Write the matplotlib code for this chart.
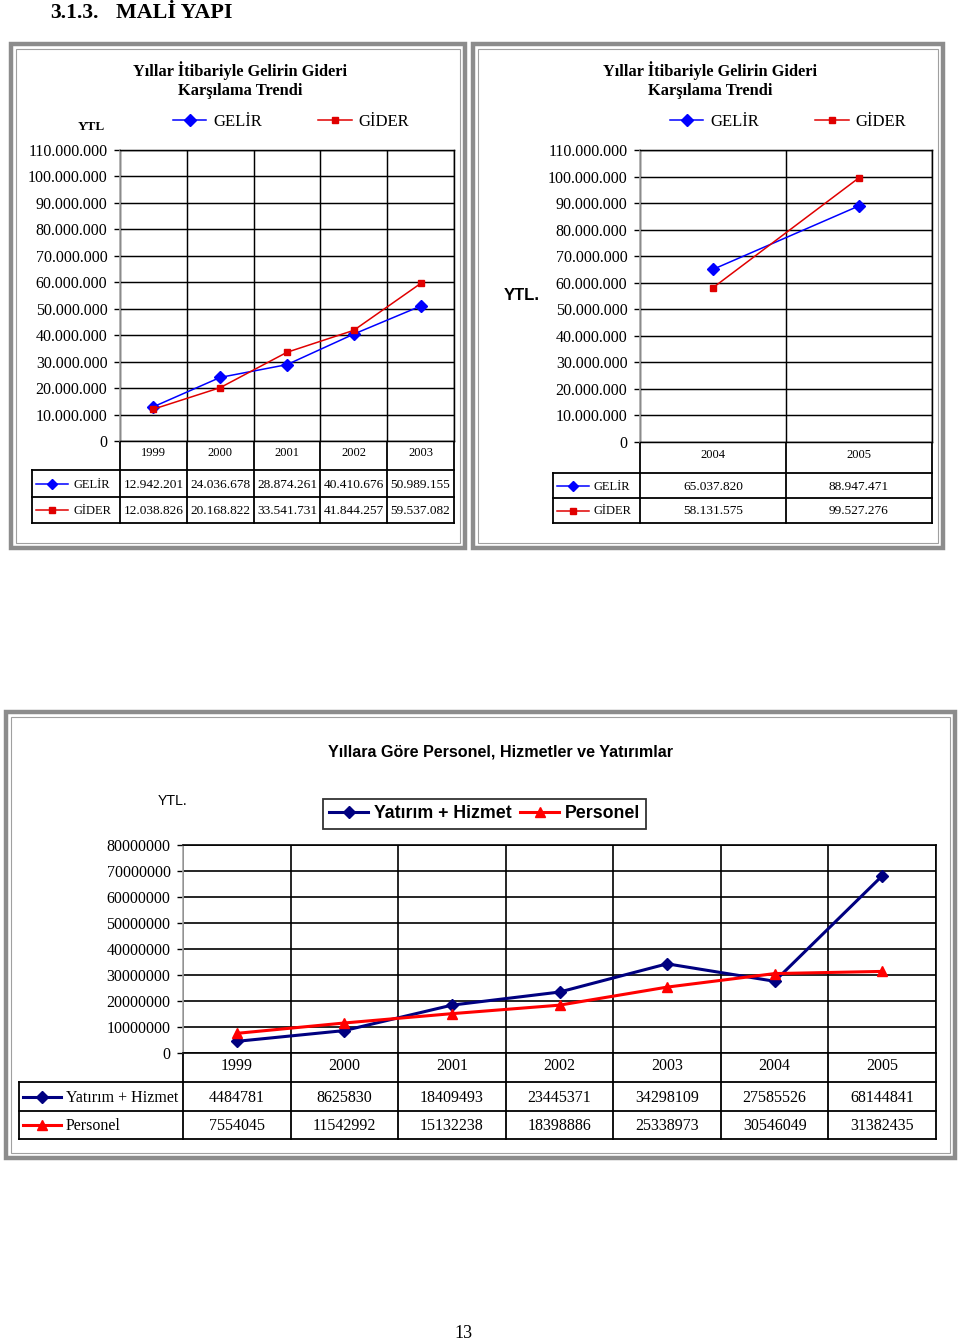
import numpy as np
import matplotlib.pyplot as plt
from matplotlib import font_manager
from matplotlib.patches import Rectangle

# ---- veriler ----
years_a = ['1999', '2000', '2001', '2002', '2003']
gelir_a = [12942201, 24036678, 28874261, 40410676, 50989155]
gider_a = [12038826, 20168822, 33541731, 41844257, 59537082]

years_b = ['2004', '2005']
gelir_b = [65037820, 88947471]
gider_b = [58131575, 99527276]

years_c = ['1999', '2000', '2001', '2002', '2003', '2004', '2005']
yatirim = [4484781, 8625830, 18409493, 23445371, 34298109, 27585526, 68144841]
personel = [7554045, 11542992, 15132238, 18398886, 25338973, 30546049, 31382435]

ticks_ab = np.arange(0, 110_000_001, 10_000_000)
ticks_c = np.arange(0, 80_000_001, 10_000_000)

W, H = 960, 1343
SERIF = ['Liberation Serif', 'DejaVu Serif']
SANS = ['Liberation Sans', 'DejaVu Sans']
names = {f.name for f in font_manager.fontManager.ttflist}
if 'Liberation Sans Narrow' in names:
    NARROW, nscale = ['Liberation Sans Narrow', 'DejaVu Sans'], 1.0
else:
    NARROW, nscale = SANS, 0.85

BLUE, RED = '#0000ff', '#e00000'
NAVY, RED2 = '#000080', '#ff0000'


def dots(v):
    return f'{int(v):,}'.replace(',', '.')


fig = plt.figure(figsize=(W / 100, H / 100), dpi=100)
bg = fig.add_axes([0, 0, 1, 1])
bg.set_xlim(0, W)
bg.set_ylim(H, 0)
bg.axis('off')


def px_axes(x0, y0, x1, y1):
    return fig.add_axes([x0 / W, 1 - y1 / H, (x1 - x0) / W, (y1 - y0) / H])


def panel_frame(x0, y0, x1, y1):
    bg.add_patch(Rectangle((x0 + 2, y0 + 2), x1 - x0 - 4, y1 - y0 - 4,
                           fill=False, ec='#8c8c8c', lw=3.2))
    bg.add_patch(Rectangle((x0 + 7, y0 + 7), x1 - x0 - 14, y1 - y0 - 14,
                           fill=False, ec='#a0a0a0', lw=0.8))


def style_axes(ax, n, yticks, ylabels, fsize, gw):
    ax.set_xlim(-0.5, n - 0.5)
    ax.set_ylim(yticks[0], yticks[-1])
    ax.set_yticks(yticks)
    ax.set_yticklabels(ylabels, family=SERIF, fontsize=fsize)
    ax.set_xticks(np.arange(n + 1) - 0.5)
    ax.set_xticklabels([])
    ax.tick_params(axis='x', length=0)
    ax.tick_params(axis='y', length=4, width=1, pad=5, color='black')
    ax.grid(True, color='black', lw=gw)
    for s in ['top', 'right', 'bottom']:
        ax.spines[s].set_color('black')
        ax.spines[s].set_linewidth(gw)
    ax.spines['left'].set_color('#a8a8a8')
    ax.spines['left'].set_linewidth(1.2)


def table(x_left, x_plot, x_right, y_plot, y_rows, cats, rows, fs_cat, fs_val,
          key_len, fs_lab, lab_family, lw_key):
    n = len(cats)
    cols = np.linspace(x_plot, x_right, n + 1)
    for cx in cols:
        bg.plot([cx, cx], [y_plot, y_rows[-1]], color='black', lw=1.3)
    bg.plot([x_left, x_left], [y_rows[0], y_rows[-1]], color='black', lw=1.3)
    for yy in y_rows:
        bg.plot([x_left, x_right], [yy, yy], color='black', lw=1.3)
    ycat = y_plot + 12.5
    for i, c in enumerate(cats):
        bg.text((cols[i] + cols[i + 1]) / 2, ycat, c, ha='center', va='center',
                family=SERIF, fontsize=fs_cat)
    for r, (label, vals, color, marker, ms, fmt) in enumerate(rows):
        ym = (y_rows[r] + y_rows[r + 1]) / 2
        kx0 = x_left + 4
        bg.plot([kx0, kx0 + key_len], [ym, ym], color=color, lw=lw_key)
        bg.plot([kx0 + key_len / 2], [ym], color=color, marker=marker, ms=ms)
        bg.text(kx0 + key_len + 5, ym + 1, label, ha='left', va='center',
                family=lab_family, fontsize=fs_lab)
        for i, v in enumerate(vals):
            bg.text((cols[i] + cols[i + 1]) / 2, ym + 1, fmt(v), ha='center',
                    va='center', family=SERIF, fontsize=fs_val)


# ---- başlık ----
bg.text(50, 13, '3.1.3.', ha='left', va='center', family=SERIF,
        fontsize=15.5, fontweight='bold')
bg.text(116, 13, 'MALİ YAPI', ha='left', va='center', family=SERIF,
        fontsize=15.8, fontweight='bold')
bg.text(463, 1333, '13', ha='center', va='center', family=SERIF, fontsize=13)

panel_frame(9, 42, 467, 550)
panel_frame(471, 42, 945, 550)
panel_frame(4, 710, 957, 1160)


def trend_chart(box, years, gelir, gider, cx_title, cx_leg, tab):
    ax = px_axes(*box)
    x = np.arange(len(years))
    l1, = ax.plot(x, gelir, color=BLUE, marker='D', ms=6, lw=1.1, label='GELİR')
    l2, = ax.plot(x, gider, color=RED, marker='s', ms=4.2, lw=1.1, label='GİDER')
    style_axes(ax, len(years), ticks_ab, [dots(v) for v in ticks_ab], 11.5, 1.05)
    bg.text(cx_title, 80, 'Yıllar İtibariyle Gelirin Gideri\nKarşılama Trendi',
            ha='center', va='center', family=SERIF, fontsize=11.8,
            fontweight='bold', linespacing=1.2)
    ax.legend(handles=[l1, l2], loc='center', ncol=2, frameon=False,
              bbox_to_anchor=(cx_leg / W, 1 - 122 / H),
              bbox_transform=fig.transFigure,
              prop=dict(family=SERIF, size=12), handlelength=2.0,
              handletextpad=0.4, columnspacing=3.4)
    x_left, y_rows = tab
    rows = [('GELİR', gelir, BLUE, 'D', 5, dots),
            ('GİDER', gider, RED, 's', 3.8, dots)]
    table(x_left, box[0], box[2], box[3], y_rows, years, rows, 9, 9.6,
          32, 9, SERIF, 1.1)
    return ax


trend_chart((120, 150, 454, 441), years_a, gelir_a, gider_a, 240, 291,
            (32, [470, 497, 523]))
bg.text(91, 127, 'YTL', ha='center', va='center', family=SERIF, fontsize=9.5,
        fontweight='bold')

trend_chart((640, 150, 932, 442), years_b, gelir_b, gider_b, 710, 788,
            (553, [473, 498, 523]))
bg.text(522, 295, 'YTL.', ha='center', va='center', family=SANS, fontsize=12,
        fontweight='bold')

# ---- alt grafik ----
box = (183, 845, 936, 1053)
ax3 = px_axes(*box)
x = np.arange(len(years_c))
h1, = ax3.plot(x, yatirim, color=NAVY, marker='D', ms=6, lw=2.2,
               label='Yatırım + Hizmet')
h2, = ax3.plot(x, personel, color=RED2, marker='^', ms=7, lw=2.2,
               label='Personel')
style_axes(ax3, len(years_c), ticks_c, [str(int(v)) for v in ticks_c], 11.5, 1.2)
ax3.legend(handles=[h1, h2], loc='center', ncol=2, frameon=True,
           fancybox=False, edgecolor='black',
           bbox_to_anchor=(484.5 / W, 1 - 814 / H), bbox_transform=fig.transFigure,
           prop=dict(family=NARROW, size=15 * nscale, weight='bold'),
           handlelength=2.2, handletextpad=0.3, columnspacing=0.5,
           borderpad=0.35)
ax3.get_legend().get_frame().set_linewidth(1.3)
bg.text(500, 752, 'Yıllara Göre Personel, Hizmetler ve Yatırımlar', ha='center',
        va='center', family=NARROW, fontsize=13.7 * nscale, fontweight='bold')
bg.text(173, 801, 'YTL.', ha='center', va='center', family=NARROW,
        fontsize=12 * nscale)
rows3 = [('Yatırım + Hizmet', yatirim, NAVY, 'D', 6, str),
         ('Personel', personel, RED2, '^', 7, str)]
table(19, box[0], box[2], box[3], [1082, 1111, 1139], years_c, rows3, 11.5, 11.5,
      38, 11.5, SERIF, 2.2)

fig.savefig('out.png', dpi=100)
